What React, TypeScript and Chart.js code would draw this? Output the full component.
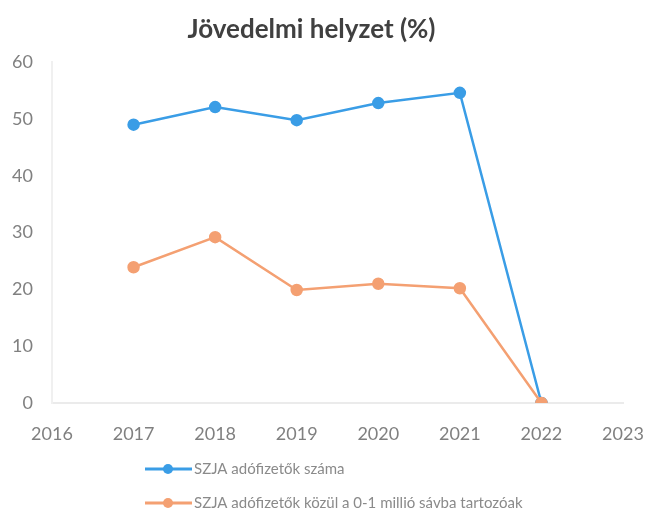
import React, { useEffect, useRef } from "react";
import { Chart, registerables } from "chart.js";

Chart.register(...registerables);

const title = "Jövedelmi helyzet (%)";
const years = [2017, 2018, 2019, 2020, 2021, 2022];
const seriesNames = ["SZJA adófizetők száma", "SZJA adófizetők közül a 0-1 millió sávba tartozóak"];
const szjaAdofizetok = [49, 52.1, 49.8, 52.8, 54.6, 0];
const szjaKozul01 = [23.9, 29.2, 19.9, 21, 20.2, 0];
const xMin = 2016;
const xMax = 2023;
const yMin = 0;
const yMax = 60;
const yStep = 10;

const blue = "#3a9de6";
const orange = "#f4a072";
const FONT = "Lato, 'Open Sans', sans-serif";

const legendPlugin = {
  id: "stackedLegend",
  afterDraw(chart: any) {
    const ctx = chart.ctx;
    const ds = chart.data.datasets;
    const rows = [469, 503];
    ctx.save();
    ds.forEach((d: any, i: number) => {
      const y = rows[i];
      ctx.strokeStyle = d.borderColor;
      ctx.lineWidth = 3;
      ctx.beginPath();
      ctx.moveTo(145, y);
      ctx.lineTo(192, y);
      ctx.stroke();
      ctx.fillStyle = d.pointBackgroundColor;
      ctx.beginPath();
      ctx.arc(168, y, 5, 0, Math.PI * 2);
      ctx.fill();
      ctx.fillStyle = "#8a8a8a";
      ctx.font = `15px ${FONT}`;
      ctx.textBaseline = "middle";
      ctx.textAlign = "left";
      ctx.fillText(d.label, 194, y);
    });
    ctx.restore();
  },
};

export default function App() {
  const ref = useRef<HTMLCanvasElement | null>(null);
  useEffect(() => {
    if (!ref.current) return;
    const chart = new Chart(ref.current, {
      type: "line",
      data: {
        datasets: [
          {
            label: seriesNames[0],
            data: years.map((x, i) => ({ x, y: szjaAdofizetok[i] })),
            borderColor: blue,
            backgroundColor: blue,
            pointBackgroundColor: blue,
            pointBorderColor: blue,
            borderWidth: 2.5,
            pointRadius: 5,
            order: 1,
          },
          {
            label: seriesNames[1],
            data: years.map((x, i) => ({ x, y: szjaKozul01[i] })),
            borderColor: orange,
            backgroundColor: orange,
            pointBackgroundColor: orange,
            pointBorderColor: orange,
            borderWidth: 2.5,
            pointRadius: 5,
            order: 0,
          },
        ],
      },
      options: {
        responsive: false,
        animation: false,
        layout: { padding: { left: 0, right: 26, top: 0, bottom: 0 } },
        plugins: {
          legend: { display: false },
          tooltip: { enabled: false },
          title: {
            display: true,
            text: title,
            color: "#404040",
            font: { family: FONT, size: 26, weight: "bold" },
            padding: { top: 14, bottom: 17 },
          },
        },
        scales: {
          x: {
            type: "linear",
            min: xMin,
            max: xMax,
            afterFit: (s: any) => {
              s.height = 107;
              s.paddingRight = 0;
              s.paddingLeft = 0;
            },
            ticks: {
              stepSize: 1,
              color: "#808080",
              font: { family: FONT, size: 18 },
              padding: 20,
              callback: (v: any) => String(v),
            },
            grid: { display: false, drawTicks: false },
            border: { display: true, color: "#ebebeb", width: 2 },
          },
          y: {
            min: yMin,
            max: yMax,
            afterFit: (s: any) => {
              s.width = 52;
            },
            ticks: {
              stepSize: yStep,
              color: "#808080",
              font: { family: FONT, size: 18 },
              padding: 19,
            },
            grid: { display: false, drawTicks: false },
            border: { display: true, color: "#f0f0f0", width: 2 },
          },
        },
      },
      plugins: [legendPlugin],
    });
    return () => chart.destroy();
  }, []);
  return (
    <div style={{ position: "absolute", left: 0, top: 0, width: 649, height: 510, background: "#fff" }}>
      <canvas ref={ref} width={649} height={510} />
    </div>
  );
}
